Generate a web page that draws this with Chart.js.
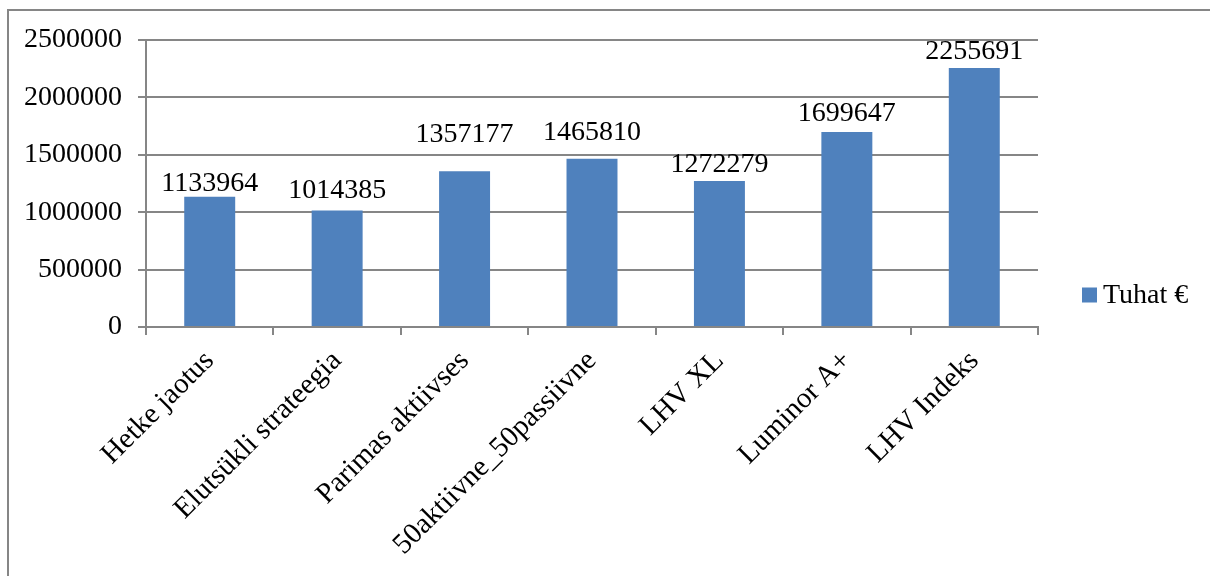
<!DOCTYPE html>
<html>
<head>
<meta charset="utf-8">
<script src="https://cdn.jsdelivr.net/npm/chart.js@4/dist/chart.umd.min.js"></script>
<style>
html,body{margin:0;padding:0;background:#fff;}
#wrap{position:relative;width:1210px;height:576px;}
</style>
</head>
<body>
<div id="wrap"><canvas id="c" width="1210" height="576"></canvas></div>
<script>
const categories = ["Hetke jaotus","Elutsükli strateegia","Parimas aktiivses","50aktiivne_50passiivne","LHV XL","Luminor A+","LHV Indeks"];
const seriesName = "Tuhat €";
const values = [1133964, 1014385, 1357177, 1465810, 1272279, 1699647, 2255691];
const yTicks = [0, 500000, 1000000, 1500000, 2000000, 2500000];

// style: gap in px between each bar top and its label baseline (as placed in the original)
const labelGaps = [6, 13, 29, 19, 9, 11, 9];

const FONT = "'Liberation Serif', 'Times New Roman', serif";
const GRAY = "#868686";
const BLUE = "#4F81BD";

const extras = {
  id: 'extras',
  afterDraw(chart) {
    const ctx = chart.ctx;
    ctx.save();
    // outer frame
    ctx.strokeStyle = GRAY;
    ctx.lineWidth = 2;
    ctx.beginPath();
    ctx.moveTo(8, 577);
    ctx.lineTo(8, 10);
    ctx.lineTo(1211, 10);
    ctx.stroke();
    // data labels
    const meta = chart.getDatasetMeta(0);
    ctx.fillStyle = "#000";
    ctx.font = "28px " + FONT;
    ctx.textAlign = "center";
    ctx.textBaseline = "alphabetic";
    meta.data.forEach((bar, i) => {
      ctx.fillText(String(chart.data.datasets[0].data[i]), bar.x, bar.y - labelGaps[i]);
    });
    // legend
    const ly = 295;
    ctx.fillStyle = BLUE;
    ctx.fillRect(1082, ly - 7.5, 15, 15);
    ctx.fillStyle = "#000";
    ctx.textAlign = "left";
    ctx.textBaseline = "middle";
    ctx.fillText(chart.data.datasets[0].label, 1103, ly + 1);
    ctx.restore();
  }
};

new Chart(document.getElementById('c'), {
  type: 'bar',
  data: {
    labels: categories,
    datasets: [{
      label: seriesName,
      data: values,
      backgroundColor: BLUE,
      borderWidth: 0,
      barPercentage: 0.4,
      categoryPercentage: 1.0
    }]
  },
  options: {
    responsive: false,
    animation: false,
    devicePixelRatio: 1,
    layout: { padding: { left: 0, top: 40, right: 172, bottom: 0 } },
    plugins: { legend: { display: false }, tooltip: { enabled: false } },
    scales: {
      x: {
        grid: { display: true, drawOnChartArea: false, drawTicks: true, tickLength: 8, color: GRAY, offset: true, lineWidth: 2 },
        border: { display: true, color: GRAY, width: 2 },
        ticks: { color: "#000", font: { family: FONT, size: 29 }, minRotation: 45, maxRotation: 45, padding: 9, autoSkip: false },
        afterFit(scale) { scale.height = 249; }
      },
      y: {
        min: 0, max: 2500000,
        afterBuildTicks(scale) { scale.ticks = yTicks.map(v => ({ value: v })); },
        grid: { color: GRAY, lineWidth: 2, tickLength: 8, drawTicks: true },
        border: { display: true, color: GRAY, width: 2 },
        ticks: { color: "#000", font: { family: FONT, size: 28 }, padding: 16, callback: v => String(v) },
        afterFit(scale) { scale.width = 146; }
      }
    }
  },
  plugins: [extras]
});
</script>
</body>
</html>
